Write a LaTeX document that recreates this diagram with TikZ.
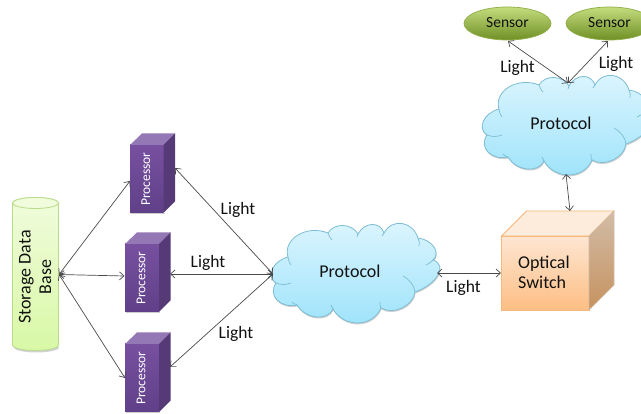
\documentclass[tikz,border=0pt]{standalone}
\usepackage{fontspec}
\setmainfont{Carlito}
\usetikzlibrary{calc,arrows.meta,shapes.geometric}
\definecolor{linkc}{HTML}{4A4A4A}
\definecolor{cloudedge}{HTML}{7DBDD3}
\definecolor{cloudtop}{HTML}{DDF5FE}
\definecolor{cloudbot}{HTML}{9DE3FB}
\definecolor{inkc}{HTML}{111111}
\definecolor{sensedge}{HTML}{8FAE45}
\definecolor{senstop}{HTML}{C4DC7E}
\definecolor{sensbot}{HTML}{6F9025}
\definecolor{ptop}{HTML}{9478B6}
\definecolor{pfronta}{HTML}{7750A0}
\definecolor{pfrontb}{HTML}{604088}
\definecolor{pside}{HTML}{563A78}
\definecolor{cylline}{HTML}{B8DC8C}
\definecolor{cyltop}{HTML}{F0FCDC}
\definecolor{cylbot}{HTML}{D8F8A6}
\definecolor{swedge}{HTML}{F6B87C}
\definecolor{swfronta}{HTML}{FDE6D2}
\definecolor{swfrontb}{HTML}{FDBE84}
\definecolor{swtop}{HTML}{FDEBDB}
\definecolor{swsidea}{HTML}{D2BCA6}
\definecolor{swsideb}{HTML}{C6925F}
\tikzset{
  link/.style={draw=linkc,line width=0.7pt,{Straight Barb[length=4.5pt,width=8pt]}-{Straight Barb[length=4.5pt,width=8pt]}},
  lbl/.style={font=\fontsize{17.5}{20}\selectfont,text=inkc,inner sep=0pt},
  cloudtxt/.style={font=\fontsize{18}{21}\selectfont,text=inkc,inner sep=0pt},
  proctxt/.style={font=\fontsize{13.5}{16}\selectfont,text=white,rotate=90,inner sep=0pt},
  sensorshape/.style={ellipse,minimum width=87pt,minimum height=33pt,inner sep=0pt,draw=sensedge,line width=0.7pt,
     top color=senstop,bottom color=sensbot,font=\fontsize{15.5}{18}\selectfont,text=inkc},
}
\def\bmp#1#2#3{.. controls ($1.3333*(#2)+0.1333*(#1)-0.4667*(#3)$) and ($1.3333*(#2)-0.4667*(#1)+0.1333*(#3)$) .. (#3)}
\def\cloudoutline{(276,283) \bmp{276,283}{272.5,269}{288,257} \bmp{288,257}{298,235}{328,233}
  \bmp{328,233}{343,225.5}{358,234} \bmp{358,234}{372,224.5}{384,233} \bmp{384,233}{402,223.5}{418,238}
  \bmp{418,238}{434,247}{433,260} \bmp{433,260}{438,275}{415,292} \bmp{415,292}{402,308}{381,308}
  \bmp{381,308}{358,323}{333,309} \bmp{333,309}{316,317}{297,305} \bmp{297,305}{277,300}{276,283} -- cycle}
\newcommand\cloudshape[1]{%
  \begin{scope}[shift={#1}]
    \begin{scope}[shift={(0.5,1.5)}]
    \fill[black!18] \cloudoutline;
    \end{scope}
    \path[draw=cloudedge,line width=0.8pt,top color=cloudtop,bottom color=cloudbot] \cloudoutline;
    \draw[cloudedge,line width=0.7pt]
      (276,283) .. controls (281,285) and (286,285) .. (291,283)
      (288,257) .. controls (288.5,260) and (289,263) .. (291,265)
      (328,233) .. controls (329,236) and (330,238) .. (332,240)
      (358,234) -- (357,237)
      (384,233) -- (382,236)
      (418,238) .. controls (419,241) and (420,243) .. (419,246)
      (433,260) .. controls (431,262) and (429,264) .. (426,265)
      (403,276) .. controls (410,280) and (414,285) .. (415,292)
      (381,308) .. controls (380,306) and (380,305) .. (380,302)
      (333,309) -- (331,305)
      (297,305) .. controls (294,304) and (293,303) .. (292,302);
  \end{scope}}
\newcommand\procbox[5]{% name, left, top of front, right, bottom
  \fill[black!20] ({#2+1},#5) rectangle ({#4+1},{#5+1.5});
  \path[top color=pfronta,bottom color=pfrontb] (#2,#3) rectangle (#4,#5);
  \fill[ptop] (#2,#3) -- ({#2+12},{#3-11.5}) -- ({#4+11.5},{#3-11.5}) -- (#4,#3) -- cycle;
  \fill[pside] (#4,#3) -- ({#4+11.5},{#3-11.5}) -- ({#4+11.5},{#5-11.5}) -- (#4,#5) -- cycle;
  \node[proctxt] (#1) at ({(#2+#4)/2-1},{(#3+#5)/2}) {Processor};
}
\begin{document}
\begin{tikzpicture}[x=1pt,y=-1pt]
\useasboundingbox (0,0) rectangle (641,414);
\clip (0,0) rectangle (641,414);
\fill[white] (0,0) rectangle (641,414);

% connection points
\coordinate (dbR) at (59,274.5);
\coordinate (p1L) at (130,181);
\coordinate (p2L) at (124.5,276);
\coordinate (p3L) at (125,378);
\coordinate (p1R) at (175,168);
\coordinate (p2R) at (170,274);
\coordinate (p3R) at (170,367);
\coordinate (c1L) at (273,274);
\coordinate (c1R) at (437,273);
\coordinate (swL) at (501,273);
\coordinate (swT) at (570,211);
\coordinate (c2B) at (566,174);
\coordinate (c2T) at (568,83);
\coordinate (s1B) at (508,41);
\coordinate (s2B) at (608,41);

% storage cylinder
\fill[black!18] (13.5,347) arc[start angle=180,end angle=0,x radius=23,y radius=5.5] -- cycle;
\path[draw=cylline,line width=0.8pt,top color=cyltop,bottom color=cylbot] (12.5,203) -- (12.5,345)
   arc[start angle=180,end angle=0,x radius=23,y radius=5.5] -- (58.5,203)
   arc[start angle=0,end angle=-180,x radius=23,y radius=5.5] -- cycle;
\path[draw=cylline,line width=0.8pt,fill=cyltop] (35.5,203) ellipse[x radius=23,y radius=5.5];
\node[rotate=90,align=center,font=\fontsize{18}{20.5}\selectfont,text=inkc,inner sep=0pt] (db) at (35,277) {Storage Data\\Base};

% processors
\procbox{p1}{130}{145}{163.5}{213}
\procbox{p2}{125}{244}{159}{312}
\procbox{p3}{125}{344}{159}{412}

% clouds
\cloudshape{(0,0)}
\cloudshape{(211,-148)}
\node[cloudtxt] (c1) at (350,271) {Protocol};
\node[cloudtxt] (c2) at (561,123) {Protocol};

% optical switch
\fill[black!18] (503,310) rectangle (590,311.5);
\path[draw=swedge,line width=0.8pt,top color=swfronta,bottom color=swfrontb] (501.5,236) rectangle (589,310);
\path[draw=swedge,line width=0.8pt,fill=swtop] (501.5,236) -- (526.5,211) -- (614,211) -- (589,236) -- cycle;
\path[draw=swsidea,line width=0.6pt,top color=swsidea,bottom color=swsideb] (589,236) -- (614,211) -- (614,285) -- (589,310) -- cycle;
\node[align=left,font=\fontsize{18}{19.5}\selectfont,text=inkc,inner sep=0pt,anchor=west] (sw) at (518,272.5) {Optical\\Switch};

% sensors
\node[sensorshape] (s1) at (507.5,23.5) {\raisebox{2pt}{Sensor}};
\node[sensorshape] (s2) at (609.5,23.5) {\raisebox{2pt}{Sensor}};

% connectors
\draw[link] (dbR) -- (p1L);
\draw[link] (dbR) -- (p2L);
\draw[link] (dbR) -- (p3L);
\draw[link] (p1R) -- (c1L);
\draw[link] (p2R) -- (c1L);
\draw[link] (p3R) -- (c1L);
\draw[link] (c1R) -- (swL);
\draw[link] (c2B) -- (swT);
\draw[link] (s1B) -- (c2T);
\draw[link] (s2B) -- (c2T);

% labels
\node[lbl] (l1) at (238,210) {Light};
\node[lbl] (l2) at (208,263) {Light};
\node[lbl] (l3) at (236,334) {Light};
\node[lbl] (l4) at (463.5,288) {Light};
\node[lbl] (l5) at (517.5,68) {Light};
\node[lbl] (l6) at (616,64) {Light};
\end{tikzpicture}
\end{document}
